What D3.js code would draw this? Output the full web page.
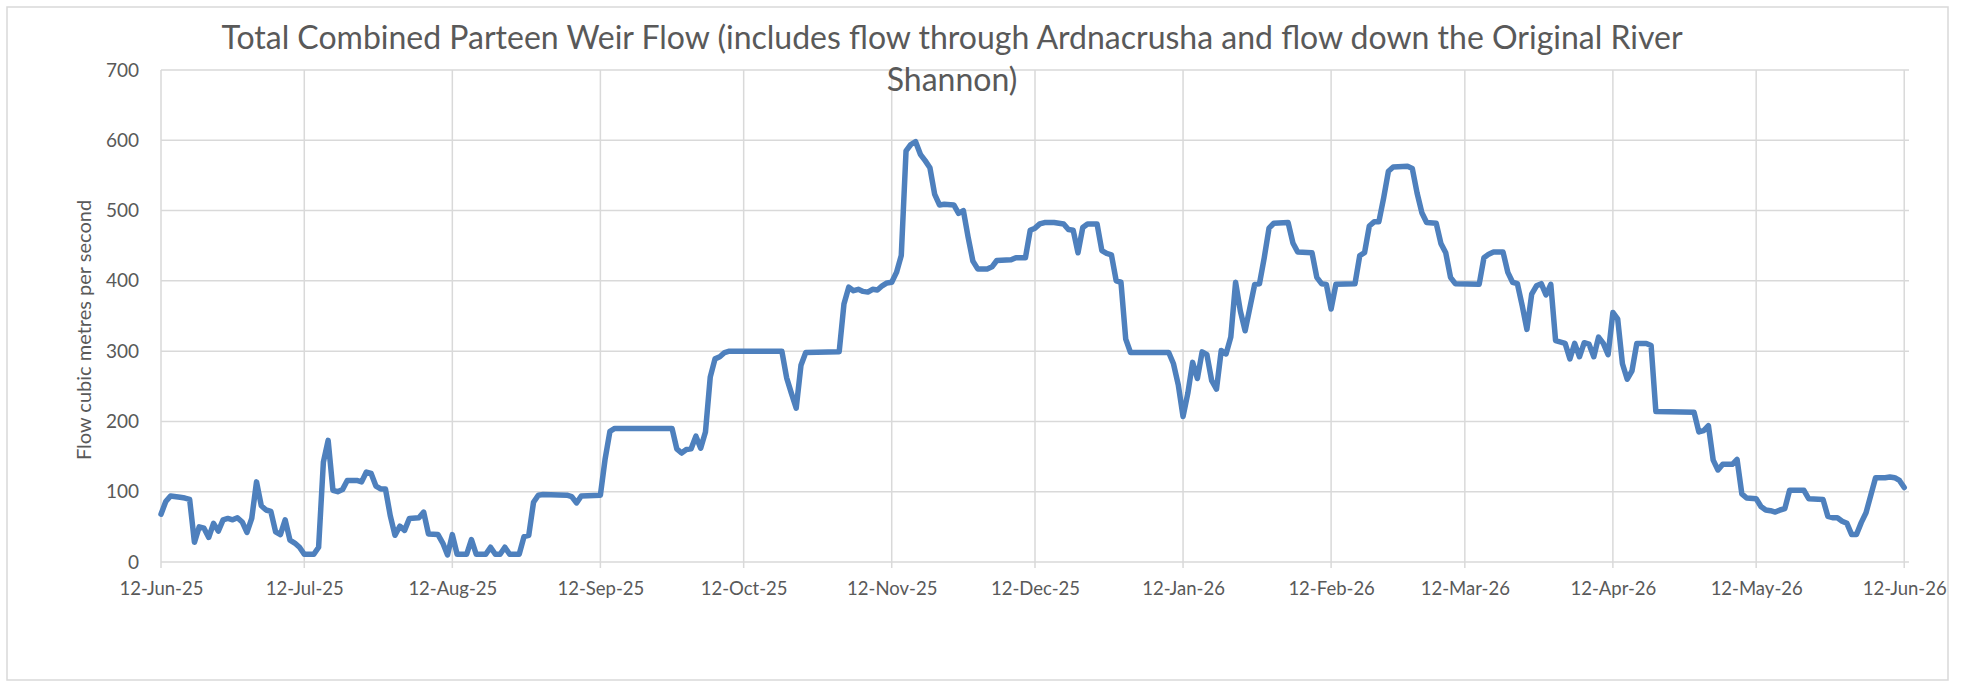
<!DOCTYPE html>
<html>
<head>
<meta charset="utf-8">
<script src="https://cdn.jsdelivr.net/npm/d3@7"></script>
<style>
  body { margin: 0; background: #fff; }
  text { font-family: Lato, "Open Sans", sans-serif; fill: #595959; }
</style>
</head>
<body>
<div id="chart"></div>
<script>
// data: days counted from the first date, flow in m3/s
var startDate = "2025-06-12"
var endDate = "2026-06-13"

var days = [0, 1, 2, 4, 5, 6, 7, 8, 9, 10, 11, 12, 13, 14, 15, 16, 17, 18, 19, 20,
  21, 22, 23, 24, 25, 26, 27, 28, 29, 30, 32, 33, 34, 35, 36, 37, 38, 39, 41, 42,
  43, 44, 45, 46, 47, 48, 49, 50, 51, 52, 54, 55, 56, 58, 59, 60, 61, 62, 64, 65,
  66, 68, 69, 70, 71, 72, 73, 75, 76, 77, 78, 79, 80, 85, 86, 87, 88, 92, 93, 94,
  95, 107, 108, 109, 110, 111, 112, 113, 114, 115, 116, 117, 118, 119, 130, 131, 132, 133, 134, 135,
  142, 143, 144, 145, 146, 147, 148, 149, 150, 151, 152, 153, 154, 155, 156, 157, 158, 159, 160, 161,
  162, 163, 164, 166, 167, 168, 169, 170, 171, 173, 174, 175, 178, 179, 181, 182, 183, 184, 185, 187,
  188, 189, 190, 191, 192, 193, 194, 196, 197, 198, 199, 200, 201, 202, 203, 211, 212, 213, 214, 215,
  216, 217, 218, 219, 220, 221, 222, 223, 224, 225, 226, 227, 228, 229, 230, 231, 232, 233, 236, 237,
  238, 241, 242, 243, 244, 245, 246, 250, 251, 252, 253, 254, 255, 256, 257, 258, 261, 262, 263, 264,
  265, 267, 268, 269, 270, 271, 276, 277, 278, 279, 281, 282, 283, 284, 285, 286, 287, 288, 289, 290,
  291, 292, 294, 295, 296, 297, 298, 299, 300, 301, 302, 303, 304, 305, 306, 307, 308, 309, 311, 312,
  313, 321, 322, 323, 324, 325, 326, 327, 329, 330, 331, 332, 334, 335, 336, 337, 338, 339, 340, 341,
  344, 345, 348, 349, 350, 351, 352, 353, 354, 355, 356, 357, 358, 359, 361, 362, 363, 364, 365]

var flows = [68, 86, 94, 92, 91, 89, 28, 50, 48, 35, 55, 44, 60, 62, 60, 63, 57, 42, 62, 114,
  80, 74, 72, 43, 39, 60, 31, 27, 21, 11, 11, 21, 142, 173, 102, 100, 103, 116, 116, 114,
  128, 126, 108, 104, 104, 66, 38, 51, 45, 62, 63, 71, 40, 39, 27, 10, 39, 11, 11, 32,
  11, 11, 21, 11, 11, 21, 11, 11, 36, 38, 85, 95, 96, 95, 93, 84, 94, 95, 147, 186,
  190, 190, 161, 155, 160, 161, 179, 162, 185, 263, 289, 292, 298, 300, 300, 262, 240, 219, 280, 298,
  299, 367, 391, 386, 388, 385, 384, 388, 387, 393, 397, 398, 412, 436, 585, 594, 598, 580, 571, 561,
  523, 508, 509, 508, 496, 500, 462, 428, 417, 417, 420, 429, 430, 433, 433, 472, 475, 481, 483, 483,
  482, 481, 473, 472, 440, 476, 481, 481, 443, 439, 437, 400, 398, 317, 298, 298, 282, 252, 207, 240,
  284, 261, 299, 295, 258, 246, 301, 296, 320, 398, 357, 329, 362, 395, 396, 433, 475, 482, 483, 454,
  441, 440, 405, 396, 395, 360, 395, 396, 436, 440, 478, 484, 484, 518, 556, 562, 563, 560, 525, 497,
  483, 482, 453, 440, 405, 396, 395, 433, 438, 441, 441, 412, 398, 396, 365, 331, 381, 393, 396, 380,
  395, 315, 311, 289, 311, 292, 312, 310, 292, 320, 311, 295, 355, 346, 282, 260, 272, 311, 311, 308,
  214, 213, 185, 187, 194, 145, 131, 139, 139, 146, 97, 91, 90, 79, 74, 73, 71, 74, 76, 102,
  102, 90, 89, 65, 63, 63, 58, 55, 39, 39, 56, 70, 95, 120, 120, 121, 120, 116, 106]

var tickDates = ["2025-06-12", "2025-07-12", "2025-08-12", "2025-09-12", "2025-10-12",
  "2025-11-12", "2025-12-12", "2026-01-12", "2026-02-12", "2026-03-12", "2026-04-12",
  "2026-05-12", "2026-06-12"]
var yTicks = [0, 100, 200, 300, 400, 500, 600, 700]

var titleLines = ["Total Combined Parteen Weir Flow (includes flow through Ardnacrusha and flow down the Original River",
  "Shannon)"]
var yTitle = "Flow cubic metres per second"

// dimensions
var width = 1967,
    height = 684
var plot = { left: 161, right: 1909, top: 70, bottom: 562 }

var parse = d3.timeParse("%Y-%m-%d")
var start = parse(startDate)

var data = days.map(function(d, i) {
  return { date: d3.timeDay.offset(start, d), value: flows[i] }
})

var svg = d3.select("#chart")
  .append("svg")
    .attr("width", width)
    .attr("height", height)

// chart area clip + border
svg.append("clipPath").attr("id", "area")
  .append("rect")
    .attr("x", 7).attr("y", 7)
    .attr("width", 1941).attr("height", 673)

var g = svg.append("g").attr("clip-path", "url(#area)")

var x = d3.scaleTime()
  .domain([start, parse(endDate)])
  .range([plot.left, plot.right])

var y = d3.scaleLinear()
  .domain([0, 700])
  .range([plot.bottom, plot.top])

// horizontal gridlines
g.selectAll(".hgrid")
  .data(yTicks)
  .enter()
  .append("line")
    .attr("x1", plot.left)
    .attr("x2", plot.right)
    .attr("y1", function(d) { return y(d) })
    .attr("y2", function(d) { return y(d) })
    .attr("stroke", "#d9d9d9")
    .attr("stroke-width", 1.5)

// vertical gridlines, running a little below the axis as tick marks
var ticks = tickDates.map(parse)
g.selectAll(".vgrid")
  .data(ticks)
  .enter()
  .append("line")
    .attr("x1", function(d) { return x(d) })
    .attr("x2", function(d) { return x(d) })
    .attr("y1", plot.top)
    .attr("y2", plot.bottom + 6)
    .attr("stroke", "#d9d9d9")
    .attr("stroke-width", 1.5)

// y axis labels
var yAxis = g.append("g")
  .attr("transform", "translate(" + (plot.left - 22) + ",0)")
  .call(d3.axisLeft(y).tickValues(yTicks).tickSize(0).tickPadding(0))
yAxis.select(".domain").remove()
yAxis.selectAll("text")
  .style("font-family", "Lato")
  .style("font-size", "19px")
  .attr("fill", "#595959")

// x axis labels
var xAxis = g.append("g")
  .attr("transform", "translate(0," + plot.bottom + ")")
  .call(d3.axisBottom(x).tickValues(ticks).tickFormat(d3.timeFormat("%d-%b-%y")).tickSize(0).tickPadding(20))
xAxis.select(".domain").remove()
xAxis.selectAll("text")
  .style("font-family", "Lato")
  .style("font-size", "18.5px")
  .attr("fill", "#595959")

// the flow line
var line = d3.line()
  .x(function(d) { return x(d.date) })
  .y(function(d) { return y(d.value) })

g.append("path")
  .datum(data)
  .attr("d", line)
  .attr("fill", "none")
  .attr("stroke", "#4e80bd")
  .attr("stroke-width", 5.5)
  .attr("stroke-linejoin", "round")
  .attr("stroke-linecap", "round")

// axis title
g.append("text")
  .attr("transform", "translate(91,330) rotate(-90)")
  .style("text-anchor", "middle")
  .style("font-size", "20px")
  .text(yTitle)

// chart title over two lines
g.selectAll(".title")
  .data(titleLines)
  .enter()
  .append("text")
    .attr("x", 952)
    .attr("y", function(d, i) { return 49 + i * 42 })
    .style("text-anchor", "middle")
    .style("font-size", "32px")
    .text(function(d) { return d })

svg.append("rect")
  .attr("x", 7).attr("y", 7)
  .attr("width", 1941).attr("height", 673)
  .attr("fill", "none")
  .attr("stroke", "#d9d9d9")
  .attr("stroke-width", 1.5)
</script>
</body>
</html>
